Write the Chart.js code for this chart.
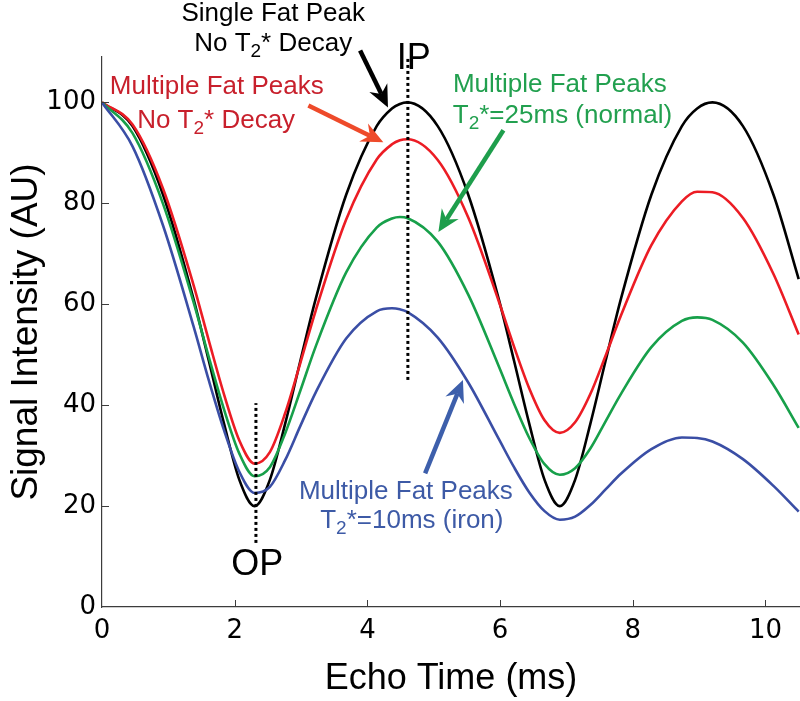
<!DOCTYPE html>
<html><head><meta charset="utf-8">
<script src="https://cdn.jsdelivr.net/npm/chart.js@4/dist/chart.umd.min.js"></script>
<style>html,body{margin:0;padding:0;background:#fff;overflow:hidden}canvas{display:block}</style>
</head><body>
<canvas id="c" width="800" height="701"></canvas>
<script>
// ---- data ----
const echoTimes = [0,0.46,0.92,1.38,1.61,1.84,2.07,2.3,2.53,2.76,2.99,3.22,3.68,4.14,4.37,4.49,4.6,5.06,5.52,5.98,6.21,6.44,6.67,6.9,7.13,7.36,7.59,7.82,8.28,8.74,8.97,9.2,9.66,10.12,10.5];
const singleNoDecay = [100,95.3,81.7,61.0,48.8,36.3,25.2,20.0,25.2,36.3,48.8,61.0,81.7,95.3,98.8,99.7,100,95.3,81.7,61.0,48.8,36.3,25.2,20.0,25.2,36.3,48.8,61.0,81.7,95.3,98.8,100,95.3,81.7,65.0];
const multiNoDecay = [100,95.6,82.9,63.8,52.8,42.1,33.0,28.4,30.7,38.4,48.4,58.7,76.8,88.7,91.7,92.5,92.7,88.6,77.2,60.6,51.6,43.3,37.0,34.5,36.6,42.2,49.8,57.7,71.7,80.4,82.3,82.2,77.1,66.0,54.0];
const multiT2s25 = [100,93.9,79.9,60.4,49.5,39.1,30.4,25.9,27.7,34.4,42.9,51.6,66.3,75.2,77.0,77.3,77.1,72.4,61.9,47.7,40.3,33.5,28.3,26.2,27.5,31.4,36.8,42.2,51.5,56.7,57.4,56.9,52.4,44.0,35.5];
const multiT2s10 = [100,91.3,75.6,55.6,44.9,35.0,26.8,22.6,23.8,29.1,35.9,42.5,53.2,58.6,59.2,59.0,58.5,53.4,44.5,33.3,27.7,22.7,19.0,17.3,17.9,20.2,23.3,26.4,31.3,33.6,33.5,32.8,29.3,24.0,18.9];
const xTicks = [0,2,4,6,8,10];
const yTicks = [0,20,40,60,80,100];
const opTime = 2.32, opRange = [12.7, 40.4];
const ipTime = 4.61, ipRange = [45, 109];

// ---- annotations (data coordinates) ----
const notes = [
  {t:2.58, v:116.2, c:'#000000', s:[['Single Fat Peak']]},
  {t:2.58, v:110.1, c:'#000000', s:[['No T'],['2',1],['* Decay']]},
  {t:1.73, v:101.6, c:'#c8202c', s:[['Multiple Fat Peaks']]},
  {t:1.72, v:95.0,  c:'#c8202c', s:[['No T'],['2',1],['* Decay']]},
  {t:6.90, v:102.0, c:'#22a04f', s:[['Multiple Fat Peaks']]},
  {t:6.94, v:96.0,  c:'#22a04f', s:[['T'],['2',1],['*=25ms (normal)']]},
  {t:4.58, v:21.4,  c:'#3d5aa6', s:[['Multiple Fat Peaks']]},
  {t:4.67, v:15.6,  c:'#3d5aa6', s:[['T'],['2',1],['*=10ms (iron)']]}
];
const marks = [{t:4.70, v:106.7, text:'IP'}, {t:2.34, v:6.3, text:'OP'}];
const arrows = [
  {from:[3.89,110.3], to:[4.31,99.0], c:'#000000'},
  {from:[3.11,99.4],  to:[4.24,92.1], c:'#ee4a2a'},
  {from:[6.05,94.5],  to:[5.07,74.3], c:'#1e9e4c'},
  {from:[4.87,26.5],  to:[5.44,45.0], c:'#3d5fab'}
];

const LABEL_FONT = '"Liberation Sans", Arial, sans-serif';
const TICK_FONT = '"DejaVu Sans", sans-serif';

function series(vals){ return echoTimes.map((t,i)=>({x:t, y:vals[i]})); }

function drawArrow(ctx,x1,y1,x2,y2,color){
  const dx=x2-x1, dy=y2-y1, L=Math.hypot(dx,dy), ux=dx/L, uy=dy/L, nx=-uy, ny=ux;
  const hl=22, hw=10, notch=15;
  ctx.strokeStyle=color; ctx.fillStyle=color; ctx.lineWidth=4.5; ctx.lineCap='butt';
  ctx.beginPath(); ctx.moveTo(x1,y1); ctx.lineTo(x2-ux*notch, y2-uy*notch); ctx.stroke();
  ctx.beginPath();
  ctx.moveTo(x2,y2);
  ctx.lineTo(x2-ux*hl+nx*hw, y2-uy*hl+ny*hw);
  ctx.lineTo(x2-ux*notch, y2-uy*notch);
  ctx.lineTo(x2-ux*hl-nx*hw, y2-uy*hl-ny*hw);
  ctx.closePath(); ctx.fill();
}

function drawRich(ctx, cx, base, segs, color, size){
  const main = size+'px '+LABEL_FONT, sub = Math.round(size*0.74)+'px '+LABEL_FONT;
  let w = 0;
  segs.forEach(s=>{ ctx.font = s[1]?sub:main; w += ctx.measureText(s[0]).width; });
  let x = cx - w/2;
  ctx.fillStyle = color; ctx.textAlign='left'; ctx.textBaseline='alphabetic';
  segs.forEach(s=>{
    ctx.font = s[1]?sub:main;
    ctx.fillText(s[0], x, base + (s[1]?6:0));
    x += ctx.measureText(s[0]).width;
  });
}

const overlay = {
  id:'overlay',
  afterDraw(chart){
    const {ctx, scales:{x,y}, chartArea:ca} = chart;
    const px=t=>x.getPixelForValue(t), py=v=>y.getPixelForValue(v);
    ctx.save();
    // inward tick marks (MATLAB style)
    ctx.strokeStyle='#3c3c3c'; ctx.lineWidth=1;
    xTicks.forEach(t=>{ if(t===0) return; const X=Math.round(px(t))+0.5; ctx.beginPath(); ctx.moveTo(X,ca.bottom); ctx.lineTo(X,ca.bottom-7); ctx.stroke(); });
    yTicks.forEach(v=>{ if(v===0) return; const Y=Math.round(py(v))+0.5; ctx.beginPath(); ctx.moveTo(ca.left,Y); ctx.lineTo(ca.left+7,Y); ctx.stroke(); });
    // arrows
    arrows.forEach(a=>drawArrow(ctx, px(a.from[0]), py(a.from[1]), px(a.to[0]), py(a.to[1]), a.c));
    // labels
    notes.forEach(n=>drawRich(ctx, px(n.t), py(n.v), n.s, n.c, 26));
    marks.forEach(m=>{ ctx.font='36px '+LABEL_FONT; ctx.fillStyle='#000'; ctx.textAlign='center'; ctx.textBaseline='alphabetic'; ctx.fillText(m.text, px(m.t), py(m.v)); });
    ctx.restore();
  }
};

const lineDs = (label, vals, color)=>({label, data: series(vals), borderColor: color, borderWidth: 2.6, pointRadius: 0, cubicInterpolationMode:'monotone', fill:false});
const dotDs = (t, range)=>({label:'ref', data:[{x:t,y:range[0]},{x:t,y:range[1]}], borderColor:'#000', borderWidth:3, borderDash:[3,3], pointRadius:0, tension:0, fill:false});

new Chart(document.getElementById('c').getContext('2d'), {
  type:'line',
  data:{datasets:[
    dotDs(opTime, opRange),
    dotDs(ipTime, ipRange),
    lineDs('Multiple Fat Peaks, T2*=10ms (iron)', multiT2s10, '#3a4ea5'),
    lineDs('Multiple Fat Peaks, T2*=25ms (normal)', multiT2s25, '#17a04a'),
    lineDs('Multiple Fat Peaks, No T2* Decay', multiNoDecay, '#ec1c24'),
    lineDs('Single Fat Peak, No T2* Decay', singleNoDecay, '#000000')
  ]},
  options:{
    responsive:false, animation:false, devicePixelRatio:1,
    layout:{padding:{top:57, right:0, bottom:0, left:0}},
    plugins:{legend:{display:false}, tooltip:{enabled:false}},
    scales:{
      x:{type:'linear', min:0, max:10.52,
        afterBuildTicks:s=>{ s.ticks = xTicks.map(v=>({value:v})); },
        afterFit:s=>{ s.height = 94; },
        grid:{display:false, drawTicks:false},
        border:{display:true, color:'#3c3c3c', width:1.2},
        ticks:{font:{family:TICK_FONT, size:26}, color:'#000', padding:9, maxRotation:0, autoSkip:false},
        title:{display:true, text:'Echo Time (ms)', color:'#000', font:{family:LABEL_FONT, size:36}, padding:{top:0,bottom:0}}
      },
      y:{type:'linear', min:0, max:109,
        afterBuildTicks:s=>{ s.ticks = yTicks.map(v=>({value:v})); },
        afterFit:s=>{ s.width = 102; },
        grid:{display:false, drawTicks:false},
        border:{display:true, color:'#3c3c3c', width:1.2},
        ticks:{font:{family:TICK_FONT, size:26}, color:'#000', padding:6},
        title:{display:true, text:'Signal Intensity (AU)', color:'#000', font:{family:LABEL_FONT, size:37}, padding:{top:5,bottom:0}}
      }
    }
  },
  plugins:[overlay]
});
</script>
</body></html>
